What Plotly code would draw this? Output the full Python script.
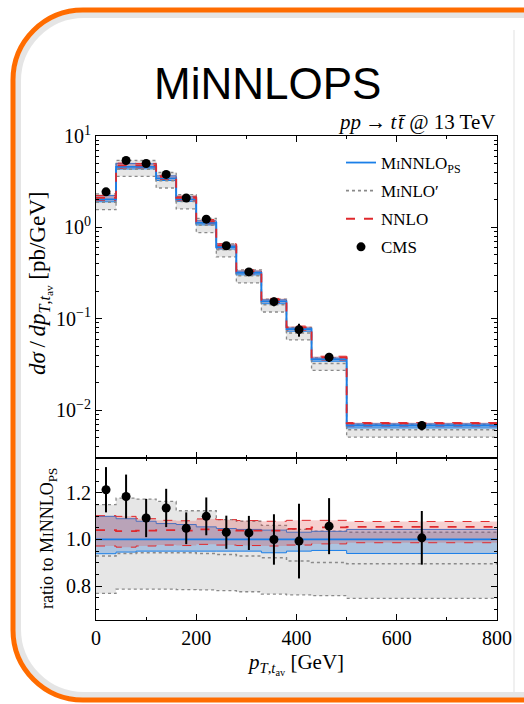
import plotly.graph_objects as go
from plotly.subplots import make_subplots

# ---------------- data ----------------
edges = [0, 40, 80, 120, 160, 200, 240, 280, 330, 380, 430, 500, 800]
minnlops = [2.03, 4.6, 4.6, 3.43, 2.03, 1.12, 0.61, 0.318, 0.155, 0.077, 0.036, 0.0068]

minnlops_ratio_up = [1.099, 1.089, 1.078, 1.068, 1.064, 1.054, 1.047, 1.043, 1.040, 1.031, 1.035, 1.043]
minnlops_ratio_dn = [0.939, 0.946, 0.950, 0.950, 0.950, 0.950, 0.950, 0.950, 0.943, 0.950, 0.953, 0.940]
nnlo_ratio = [1.040, 1.036, 1.038, 1.040, 1.038, 1.043, 1.040, 1.038, 1.038, 1.045, 1.052, 1.054]
nnlo_ratio_up = [1.102, 1.099, 1.089, 1.082, 1.080, 1.088, 1.085, 1.081, 1.078, 1.082, 1.082, 1.077]
nnlo_ratio_dn = [0.972, 0.967, 0.972, 0.976, 0.974, 0.979, 0.976, 0.974, 0.972, 0.976, 0.981, 0.986]
minlo_ratio = [0.929, 0.940, 0.943, 0.943, 0.943, 0.940, 0.936, 0.929, 0.922, 0.908, 0.901, 0.896]
minlo_ratio_up = [1.149, 1.177, 1.173, 1.163, 1.123, 1.123, 1.085, 1.078, 1.060, 1.043, 1.036, 1.031]
minlo_ratio_dn = [0.769, 0.787, 0.787, 0.787, 0.785, 0.784, 0.781, 0.776, 0.766, 0.763, 0.759, 0.748]

cms_x = [20, 60, 100, 140, 180, 220, 260, 305, 355, 405, 465, 650]
cms = [2.45, 5.4, 5.0, 3.8, 2.1, 1.23, 0.63, 0.326, 0.154, 0.076, 0.038, 0.0068]
cms_ratio = [1.213, 1.184, 1.092, 1.135, 1.048, 1.099, 1.031, 1.028, 1.000, 0.993, 1.057, 1.007]
cms_ratio_err = [0.097, 0.094, 0.082, 0.082, 0.068, 0.081, 0.071, 0.073, 0.108, 0.160, 0.120, 0.115]

x_ticks = [0, 200, 400, 600, 800]
ratio_ticks = [0.8, 1.0, 1.2]
log_ticks = [0.01, 0.1, 1, 10]
log_ticktext = ["10<sup>−2</sup>", "10<sup>−1</sup>", "10<sup>0</sup>", "10<sup>1</sup>"]

# ---------------- style ----------------
BLUE = "#1a7fe8"
RED = "#e0282c"
GREY = "#8a8a8a"
SERIF = "Liberation Serif"
W, H = 524, 704
L, R, T, B = 96, 497, 136, 620  # plot area in pixels
SPLIT = 458


def px(x, y):
    return (x - L) / (R - L), (B - y) / (B - T)


def step(vals):
    return list(vals) + [vals[-1]]


def scale(ratio):
    return [m * r for m, r in zip(minnlops, ratio)]


fig = make_subplots(rows=2, cols=1, shared_xaxes=True, vertical_spacing=0,
                    row_heights=[(SPLIT - T) / (B - T), (B - SPLIT) / (B - T)])


def band(lo, hi, fill, edgecolor, dash, width, row):
    fig.add_trace(go.Scatter(x=edges, y=step(lo), mode="lines", line_shape="hv",
                             line=dict(color=edgecolor, dash=dash, width=width),
                             showlegend=False, hoverinfo="skip"), row=row, col=1)
    fig.add_trace(go.Scatter(x=edges, y=step(hi), mode="lines", line_shape="hv",
                             fill="tonexty", fillcolor=fill,
                             line=dict(color=edgecolor, dash=dash, width=width),
                             showlegend=False, hoverinfo="skip"), row=row, col=1)


def line(vals, color, dash, width, row):
    fig.add_trace(go.Scatter(x=edges, y=step(vals), mode="lines", line_shape="hv",
                             line=dict(color=color, dash=dash, width=width),
                             showlegend=False, hoverinfo="skip"), row=row, col=1)


GREY_FILL = "rgba(200,200,200,0.45)"
BLUE_FILL = "rgba(50,125,210,0.32)"
RED_FILL = "rgba(225,70,70,0.26)"

# ----- top panel -----
band(scale(minlo_ratio_dn), scale(minlo_ratio_up), GREY_FILL, GREY, "dot", 1.3, 1)
band(scale(minnlops_ratio_dn), scale(minnlops_ratio_up), BLUE_FILL, BLUE, "solid", 1.0, 1)
band(scale(nnlo_ratio_dn), scale(nnlo_ratio_up), RED_FILL, RED, "dash", 1.0, 1)
line(scale(minlo_ratio), GREY, "dot", 1.5, 1)
line(minnlops, BLUE, "solid", 1.8, 1)
line(scale(nnlo_ratio), RED, "dash", 1.8, 1)
cms_err = [c * e / r for c, e, r in zip(cms, cms_ratio_err, cms_ratio)]
fig.add_trace(go.Scatter(x=cms_x, y=cms, mode="markers",
                         marker=dict(color="black", size=9),
                         error_y=dict(type="data", array=cms_err, color="black", thickness=2, width=0),
                         showlegend=False, hoverinfo="skip"), row=1, col=1)

# ----- ratio panel -----
band(minlo_ratio_dn, minlo_ratio_up, GREY_FILL, GREY, "dot", 1.3, 2)
band(minnlops_ratio_dn, minnlops_ratio_up, BLUE_FILL, BLUE, "solid", 1.0, 2)
band(nnlo_ratio_dn, nnlo_ratio_up, RED_FILL, RED, "dash", 1.0, 2)
line(minlo_ratio, GREY, "dot", 1.5, 2)
line([1.0] * len(minnlops), BLUE, "solid", 1.8, 2)
line(nnlo_ratio, RED, "dash", 1.8, 2)
fig.add_trace(go.Scatter(x=cms_x, y=cms_ratio, mode="markers",
                         marker=dict(color="black", size=9),
                         error_y=dict(type="data", array=cms_ratio_err, color="black", thickness=2, width=0),
                         showlegend=False, hoverinfo="skip"), row=2, col=1)

# ----- legend-only traces -----
sc = "font-size:12px"
leg = [
    (f"M<span style='{sc}'>I</span>NNLO<sub><span style='{sc}'>PS</span></sub>", BLUE, "solid", "lines"),
    (f"M<span style='{sc}'>I</span>NLO′", GREY, "dot", "lines"),
    ("NNLO", RED, "dash", "lines"),
    ("CMS", "black", "solid", "markers"),
]
for i, (nm, c, d, m) in enumerate(leg):
    fig.add_trace(go.Scatter(x=[None], y=[None], mode=m, name=nm,
                             line=dict(color=c, dash=d, width=1.8),
                             marker=dict(color="black", size=9),
                             showlegend=True,
                             legendgroup=f"g{i}", legendrank=i + 1), row=1, col=1)

axis_common = dict(showline=True, linecolor="black", linewidth=1.2, mirror="ticks",
                   ticks="inside", ticklen=6, tickwidth=1, tickcolor="black",
                   showgrid=False, zeroline=False,
                   tickfont=dict(family=SERIF, size=20, color="black"))

fig.update_xaxes(range=[0, 800], tickvals=x_ticks, tickmode="array",
                 minor=dict(tickmode="linear", tick0=0, dtick=100, ticks="inside",
                            ticklen=3, tickcolor="black", showgrid=False),
                 **axis_common)
fig.update_xaxes(showticklabels=False, row=1, col=1)
fig.update_xaxes(showticklabels=True, row=2, col=1)

minor_log = [k * 10 ** n for n in range(-3, 1) for k in range(2, 10)]
fig.update_yaxes(type="log", range=[-2.523, 1], tickmode="array", tickvals=log_ticks,
                 ticktext=log_ticktext,
                 minor=dict(tickmode="array", tickvals=minor_log, ticks="inside",
                            ticklen=3, tickcolor="black", showgrid=False),
                 row=1, col=1, **axis_common)
fig.update_yaxes(range=[0.655, 1.349], tickmode="array", tickvals=ratio_ticks,
                 ticktext=["0.8", "1.0", "1.2"],
                 minor=dict(tickmode="linear", tick0=0, dtick=0.05, ticks="inside",
                            ticklen=3, tickcolor="black", showgrid=False),
                 row=2, col=1, **axis_common)


# ----- frame (orange rounded border) -----
def rounded_path(x0, y0, x1, y1, r):
    k = 0.5523 * r

    def P(x, y):
        a, b = px(x, y)
        return f"{a:.5f},{b:.5f}"
    return (f"M {P(x1, y0)} L {P(x0 + r, y0)} "
            f"C {P(x0 + r - k, y0)} {P(x0, y0 + r - k)} {P(x0, y0 + r)} "
            f"L {P(x0, y1 - r)} "
            f"C {P(x0, y1 - r + k)} {P(x0 + r - k, y1)} {P(x0 + r, y1)} "
            f"L {P(x1, y1)}")


shapes = [
    dict(type="path", xref="paper", yref="paper",
         path=rounded_path(18, 15, 600, 695, 66),
         line=dict(color="rgba(0,0,0,0.10)", width=6), layer="below"),
    dict(type="path", xref="paper", yref="paper",
         path=rounded_path(13, 10, 600, 700, 70),
         line=dict(color="#ff6c00", width=5), layer="above"),
]
a0, b0 = px(514, 30)
a1, b1 = px(514, 692)
shapes.append(dict(type="line", xref="paper", yref="paper", x0=a0, y0=b0, x1=a1, y1=b1,
                   line=dict(color="#f0f0f0", width=2), layer="below"))

# ----- annotations -----
ann = []
tx, ty = px(267, 84)
ann.append(dict(x=tx, y=ty, xref="paper", yref="paper", text="MiNNLOPS", showarrow=False,
                font=dict(family="Liberation Sans", size=44, color="black"),
                xanchor="center", yanchor="middle"))
ann.append(dict(x=1.0, y=px(0, 136)[1], xref="paper", yref="paper",
                text="<i>pp</i>\u2009→\u2009<i>t</i>\u200a<i>t̄</i> @ 13 TeV", showarrow=False,
                font=dict(family=SERIF, size=21, color="black"),
                xanchor="right", yanchor="bottom"))
yx, yy = px(40, 284)
ann.append(dict(x=yx, y=yy, xref="paper", yref="paper", textangle=-90,
                text="<i>dσ</i>\u2009/\u2009<i>dp</i><sub><i>T</i>,<i>t</i><sub>av</sub></sub> [pb/GeV]",
                showarrow=False, font=dict(family=SERIF, size=23, color="black"),
                xanchor="center", yanchor="middle"))
rx, ry = px(48, 539)
ann.append(dict(x=rx, y=ry, xref="paper", yref="paper", textangle=-90,
                text="ratio to M<span style='font-size:14px'>I</span>NNLO<sub><span style='font-size:13px'>PS</span></sub>",
                showarrow=False, font=dict(family=SERIF, size=18, color="black"),
                xanchor="center", yanchor="middle"))
xx, xy = px(295, 664)
ann.append(dict(x=xx, y=xy, xref="paper", yref="paper",
                text="<i>p</i><sub><i>T</i>,<i>t</i><sub>av</sub></sub> [GeV]",
                showarrow=False, font=dict(family=SERIF, size=21, color="black"),
                xanchor="center", yanchor="middle"))

lx, ly = px(341, 145)
fig.update_layout(
    width=W, height=H,
    margin=dict(l=L, r=W - R, t=T, b=H - B, pad=0),
    paper_bgcolor="white", plot_bgcolor="white",
    showlegend=True,
    legend=dict(x=lx, y=ly, xanchor="left", yanchor="top", bgcolor="rgba(0,0,0,0)",
                font=dict(family=SERIF, size=17, color="black"),
                traceorder="grouped", tracegroupgap=3, itemwidth=30),
    shapes=shapes, annotations=ann,
)

fig.write_html("out.html", config={"displayModeBar": False},
               post_script="document.body.style.margin='0px';document.body.style.overflow='hidden';")
